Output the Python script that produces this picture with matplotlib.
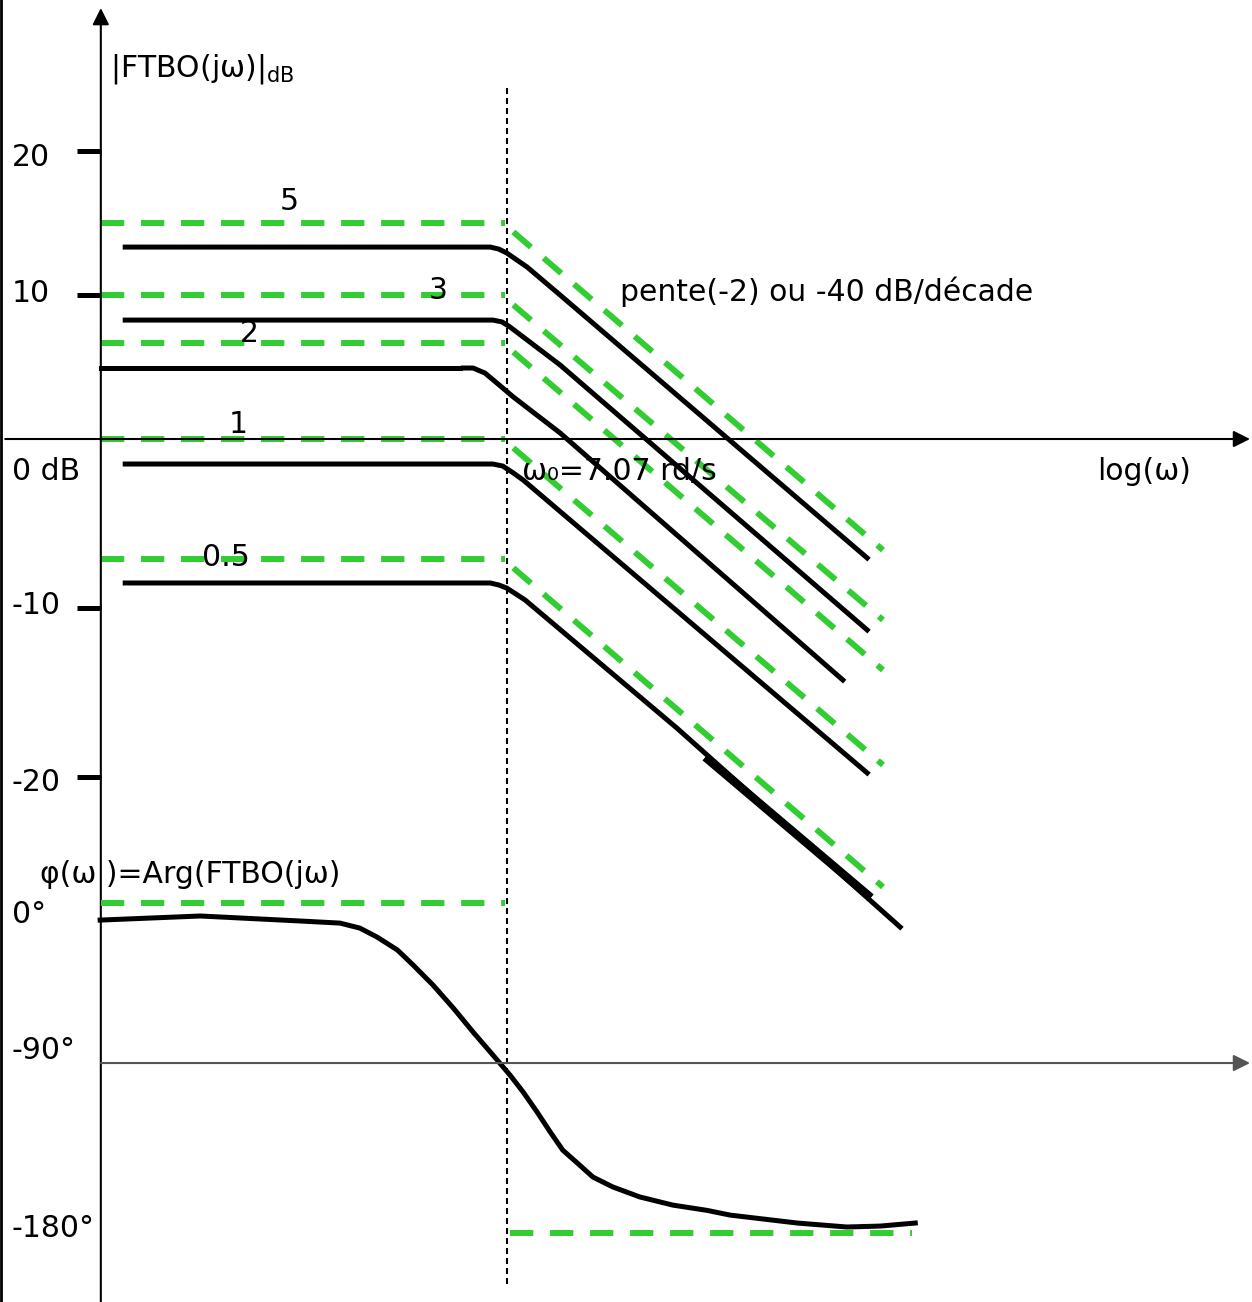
import numpy as np
import matplotlib.pyplot as plt
from matplotlib.lines import Line2D

# cut-off pulsation
w_c = 7.07

# gains K, asymptote levels as drawn on the sketch (dB)
gains = ['5', '3', '2', '1', '0.5']
asym_level = [15.0, 10.0, 6.67, 0.0, -7.1]
# sloped asymptotes (-40 dB/decade), start / end values in dB
asym_start = [14.38, 9.31, 6.04, -0.53, -7.63]
asym_end = [-6.57, -10.71, -13.67, -19.29, -26.51]
slope_x = [0.859, 1.420]

# real magnitude curves, x = log10(w), y = dB
mag_x = [
    [0.270, 0.824, 0.837, 0.849, 0.880, 0.930, 1.396],
    [0.270, 0.828, 0.842, 0.854, 0.930, 1.396],
    [0.233, 0.778],
    [0.783, 0.798, 0.816, 0.834, 0.859, 0.930, 1.359],
    [0.270, 0.828, 0.843, 0.859, 0.874, 1.396],
    [0.270, 0.824, 0.837, 0.849, 0.877, 1.107, 1.446],
]
mag_y = [
    [13.33, 13.33, 13.19, 12.92, 11.94, 10.0, -7.04],
    [8.26, 8.26, 8.13, 7.78, 5.14, -11.30],
    [4.93, 4.93],
    [4.93, 4.93, 4.58, 3.89, 2.92, 0.42, -14.26],
    [-1.48, -1.48, -1.60, -2.01, -2.43, -19.76],
    [-8.52, -8.52, -8.64, -8.82, -9.53, -17.10, -28.88],
]
# retouched (thicker) piece on the K=0.5 curve
thick_x = [1.155, 1.397]
thick_y = [-18.99, -26.98]

# phase curve (degrees)
phase_x = [0.232, 0.384, 0.535, 0.596, 0.626, 0.652, 0.683, 0.707, 0.737, 0.768,
           0.798, 0.828, 0.854, 0.874, 0.895, 0.915, 0.934, 0.956, 0.980,
           1.010, 1.051, 1.101, 1.153, 1.188, 1.290, 1.365, 1.416, 1.469]
phase_y = [-9.6, -7.3, -10.1, -11.3, -14.1, -19.1, -26.4, -34.9, -46.1, -59.1,
           -72.6, -85.5, -96.4, -105.4, -115.9, -126.5, -136.1, -142.9, -150.4,
           -155.6, -160.9, -165.2, -168.0, -170.5, -174.7, -176.8, -176.3, -174.7]

mag_ticks = [20, 10, -10, -20]
mag_tick_labels = ['20', '10', '-10', '-20']
phase_tick_labels = ['0°', '-90°', '-180°']

green = 'limegreen'
fs = 21.5

fig = plt.figure(figsize=(12.52, 13.02), dpi=100)
ax = fig.add_axes([0, 0, 1, 1])
ph = fig.add_axes([0, 0, 1, 1])
ph.patch.set_alpha(0)

# the sketch is not evenly spaced: bigger steps below 0 dB and below -90°
k_mag = 16.9 / 14.4
k_ph = 1.8889 / 1.7778


def mag_fwd(v):
    v = np.asarray(v, dtype=float)
    return np.where(v >= 0, v, v * k_mag)


def mag_inv(v):
    v = np.asarray(v, dtype=float)
    return np.where(v >= 0, v, v / k_mag)


def ph_fwd(v):
    v = np.asarray(v, dtype=float)
    return np.where(v >= -90, v, -90 + (v + 90) * k_ph)


def ph_inv(v):
    v = np.asarray(v, dtype=float)
    return np.where(v >= -90, v, -90 + (v + 90) / k_ph)


ax.set_yscale('function', functions=(mag_fwd, mag_inv))
ph.set_yscale('function', functions=(ph_fwd, ph_inv))
ax.set_xlim(0.08, 1.98)
ax.set_ylim(-51.07, 30.49)
ph.set_xlim(0.08, 1.98)
ph.set_ylim(-216.5, 507.9)
ax.axis('off')
ph.axis('off')

x0 = 0.233  # vertical axis position
x_c = np.log10(w_c)

# axes with arrows
arrow = dict(arrowstyle='-|>', color='k', lw=1.5, mutation_scale=25, shrinkA=0, shrinkB=0)
ax.annotate('', xy=(x0, 29.93), xytext=(x0, -51.07), arrowprops=arrow)
ax.annotate('', xy=(1.977, 0), xytext=(0.088, 0), arrowprops=arrow)
ph.annotate('', xy=(1.977, -90), xytext=(x0, -90),
            arrowprops=dict(arrow, color='#555555'))
fig.add_artist(Line2D([0.001, 0.001], [0, 1], transform=fig.transFigure, color='k', lw=2))

# ticks on the dB axis
for v in mag_ticks:
    ax.plot([0.197, x0], [v, v], color='k', lw=3.6, solid_capstyle='butt')
for lab, ly in zip(mag_tick_labels, [19.58, 10.14, -9.88, -20.3]):
    ax.text(0.098, ly, lab, fontsize=fs, ha='left', va='center')
ax.text(0.098, -1.9, '0 dB', fontsize=fs, ha='left', va='center')

# cut-off vertical dotted line
ax.plot([x_c, x_c], [24.4, -50.06], color='k', lw=1.5, dashes=(2.9, 1.9))

# asymptotes
for lvl, s, e in zip(asym_level, asym_start, asym_end):
    ax.plot([x0, 0.846], [lvl, lvl], color=green, lw=4.3, dashes=(3.9, 2.8),
            dash_capstyle='butt')
    ax.plot(slope_x, [s, e], color=green, lw=4.3, dashes=(3.9, 2.8),
            dash_capstyle='butt')

# real curves
for xs, ys in zip(mag_x, mag_y):
    ax.plot(xs, ys, color='k', lw=3.6, solid_joinstyle='round')
ax.plot(thick_x, thick_y, color='k', lw=6)

# gain labels
gain_pos = [(0.519, 16.5), (0.745, 10.3), (0.459, 7.3), (0.441, 1.0), (0.423, -7.0)]
for g, (gx, gy) in zip(gains, gain_pos):
    ax.text(gx, gy, g, fontsize=fs, ha='center', va='center')

ax.text(0.247, 25.7, '|FTBO(jω)|$_{\\rm dB}$', fontsize=fs, ha='left', va='center')
ax.text(1.021, 10.2, 'pente(-2) ou -40 dB/décade', fontsize=fs, ha='left', va='center')
ax.text(0.872, -1.9, 'ω₀=7.07 rd/s', fontsize=fs, ha='left', va='center')
ax.text(1.745, -1.9, 'log(ω)', fontsize=fs, ha='left', va='center')

# phase part
ph.plot([x0, 0.846], [0, 0], color=green, lw=4.3, dashes=(3.9, 2.8), dash_capstyle='butt')
ph.plot([0.854, 1.464], [-180, -180], color=green, lw=4.3, dashes=(3.9, 2.8),
        dash_capstyle='butt')
ph.plot(phase_x, phase_y, color='k', lw=3.6, solid_joinstyle='round')
for lab, ly in zip(phase_tick_labels, [-6.2, -82.7, -177.4]):
    ph.text(0.098, ly, lab, fontsize=fs, ha='left', va='center')
ph.text(0.141, 16.3, 'φ(ω )=Arg(FTBO(jω)', fontsize=fs, ha='left', va='center')

fig.savefig('out.png', dpi=100)
